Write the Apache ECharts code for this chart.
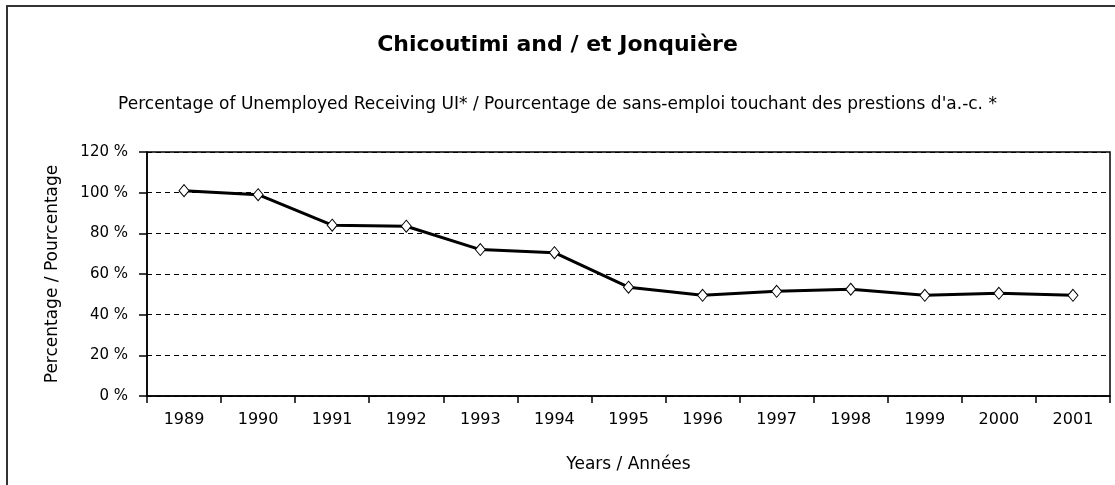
<!DOCTYPE html>
<html>
<head>
<meta charset="utf-8">
<script src="https://cdn.jsdelivr.net/npm/echarts@6/dist/echarts.min.js"></script>
<style>
  html, body { margin: 0; padding: 0; background: #fff; }
  #chart { width: 1115px; height: 485px; }
</style>
</head>
<body>
<div id="chart"></div>
<script>
const years = ['1989', '1990', '1991', '1992', '1993', '1994', '1995', '1996', '1997', '1998', '1999', '2000', '2001']
const pctReceivingUI = [101, 99, 84, 83.5, 72, 70.5, 53.5, 49.5, 51.5, 52.5, 49.5, 50.5, 49.5]
const yTicks = [0, 20, 40, 60, 80, 100, 120]

const font = 'DejaVu Sans'
const chart = echarts.init(document.getElementById('chart'))

chart.setOption({
  animation: false,
  backgroundColor: '#fff',
  textStyle: { fontFamily: font, color: '#000' },
  title: [
    {
      text: 'Chicoutimi and / et Jonquière',
      left: 'center',
      top: 29,
      textStyle: { fontFamily: font, fontSize: 22, fontWeight: 'bold', color: '#000' }
    },
    {
      text: 'Percentage of Unemployed Receiving UI* / Pourcentage de sans-emploi touchant des prestions d\'a.-c. *',
      left: 'center',
      top: 91,
      textStyle: { fontFamily: font, fontSize: 17, fontWeight: 'normal', color: '#000' }
    }
  ],
  graphic: [
    {
      type: 'rect',
      shape: { x: 7, y: 6, width: 1200, height: 600 },
      style: { fill: null, stroke: '#333', lineWidth: 2 },
      silent: true
    }
  ],
  grid: {
    left: 147,
    right: 5,
    top: 152,
    bottom: 89,
    show: true,
    borderColor: '#000',
    borderWidth: 1.5
  },
  xAxis: {
    type: 'category',
    data: years,
    boundaryGap: true,
    name: 'Years / Années',
    nameLocation: 'middle',
    nameGap: 60,
    nameTextStyle: { fontFamily: font, fontSize: 17, color: '#000' },
    axisLine: { lineStyle: { color: '#000', width: 1.5 } },
    axisTick: { show: true, length: 7, lineStyle: { color: '#000', width: 1.5 } },
    axisLabel: { fontFamily: font, fontSize: 16, color: '#000', margin: 16 }
  },
  yAxis: {
    type: 'value',
    min: yTicks[0],
    max: yTicks[yTicks.length - 1],
    interval: 20,
    name: 'Percentage / Pourcentage',
    nameLocation: 'middle',
    nameGap: 86,
    nameTextStyle: { fontFamily: font, fontSize: 17, color: '#000' },
    axisLine: { show: true, lineStyle: { color: '#000', width: 1.5 } },
    axisTick: { show: true, length: 8, lineStyle: { color: '#000', width: 1.5 } },
    axisLabel: { fontFamily: font, fontSize: 15, color: '#000', margin: 19, formatter: v => v + ' %' },
    splitLine: { show: true, lineStyle: { color: '#000', width: 1.2, type: [5, 4] } }
  },
  series: [
    {
      name: 'UI',
      type: 'line',
      data: pctReceivingUI,
      lineStyle: { color: '#000', width: 3 },
      symbol: 'diamond',
      symbolSize: [10, 12],
      itemStyle: { color: '#fff', borderColor: '#000', borderWidth: 1 }
    }
  ]
})
</script>
</body>
</html>
